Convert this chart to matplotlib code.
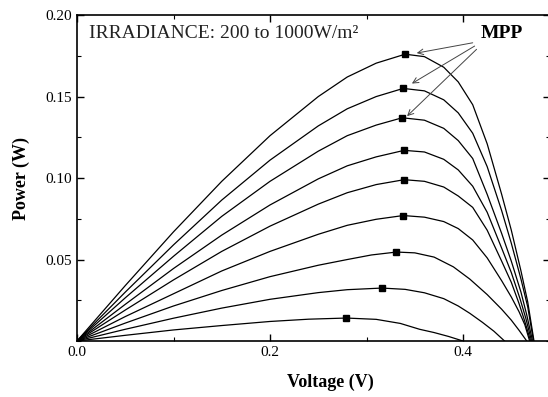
import numpy as np
import matplotlib.pyplot as plt
from matplotlib.ticker import MultipleLocator, FixedLocator

plt.rcParams['font.family'] = ['Liberation Serif', 'DejaVu Serif']

# P-V curves, highest irradiance first (V in volts, P in watts)
v1 = [0, 0.05, 0.10, 0.15, 0.20, 0.25, 0.28, 0.31, 0.34, 0.36, 0.38, 0.395, 0.41, 0.425, 0.44, 0.45, 0.46, 0.467, 0.4735]
p1 = [0, 0.034, 0.067, 0.098, 0.126, 0.150, 0.162, 0.1705, 0.176, 0.1745, 0.168, 0.159, 0.145, 0.121, 0.090, 0.068, 0.043, 0.024, 0]
v2 = [0, 0.05, 0.10, 0.15, 0.20, 0.25, 0.28, 0.31, 0.338, 0.36, 0.38, 0.395, 0.41, 0.425, 0.44, 0.45, 0.46, 0.467, 0.473]
p2 = [0, 0.030, 0.059, 0.0865, 0.111, 0.132, 0.1425, 0.150, 0.155, 0.1535, 0.148, 0.140, 0.1275, 0.107, 0.080, 0.060, 0.038, 0.021, 0]
v3 = [0, 0.05, 0.10, 0.15, 0.20, 0.25, 0.28, 0.31, 0.337, 0.36, 0.38, 0.395, 0.41, 0.425, 0.44, 0.45, 0.46, 0.466, 0.472]
p3 = [0, 0.0265, 0.052, 0.0765, 0.098, 0.1165, 0.126, 0.1325, 0.137, 0.1355, 0.1305, 0.123, 0.112, 0.090, 0.066, 0.049, 0.030, 0.016, 0]
v4 = [0, 0.05, 0.10, 0.15, 0.20, 0.25, 0.28, 0.31, 0.339, 0.36, 0.38, 0.395, 0.41, 0.425, 0.44, 0.45, 0.459, 0.465, 0.471]
p4 = [0, 0.0225, 0.0445, 0.065, 0.0835, 0.0995, 0.1075, 0.113, 0.117, 0.116, 0.1115, 0.105, 0.095, 0.079, 0.057, 0.042, 0.026, 0.014, 0]
v5 = [0, 0.05, 0.10, 0.15, 0.20, 0.25, 0.28, 0.31, 0.339, 0.36, 0.38, 0.395, 0.41, 0.425, 0.44, 0.45, 0.458, 0.464, 0.470]
p5 = [0, 0.019, 0.0375, 0.055, 0.0705, 0.084, 0.091, 0.096, 0.099, 0.098, 0.0945, 0.089, 0.082, 0.068, 0.049, 0.036, 0.023, 0.012, 0]
v6 = [0, 0.05, 0.10, 0.15, 0.20, 0.25, 0.28, 0.31, 0.338, 0.36, 0.38, 0.395, 0.41, 0.425, 0.44, 0.45, 0.458, 0.464, 0.469]
p6 = [0, 0.015, 0.029, 0.043, 0.055, 0.0655, 0.071, 0.0747, 0.077, 0.076, 0.0733, 0.069, 0.062, 0.051, 0.037, 0.027, 0.018, 0.010, 0]
v7 = [0, 0.05, 0.10, 0.15, 0.20, 0.25, 0.28, 0.305, 0.331, 0.35, 0.37, 0.39, 0.407, 0.425, 0.44, 0.45, 0.458, 0.466]
p7 = [0, 0.011, 0.0215, 0.031, 0.0395, 0.0465, 0.050, 0.0528, 0.0546, 0.0541, 0.0515, 0.0455, 0.038, 0.0285, 0.0195, 0.0128, 0.0066, 0]
v8 = [0, 0.05, 0.10, 0.15, 0.20, 0.25, 0.28, 0.316, 0.34, 0.36, 0.38, 0.395, 0.407, 0.42, 0.432, 0.443]
p8 = [0, 0.0072, 0.014, 0.0202, 0.0256, 0.0297, 0.0315, 0.0325, 0.0317, 0.0296, 0.026, 0.0215, 0.017, 0.0115, 0.006, 0]
v9 = [0, 0.05, 0.10, 0.15, 0.20, 0.24, 0.279, 0.31, 0.335, 0.355, 0.37, 0.385, 0.40]
p9 = [0, 0.0035, 0.0068, 0.0095, 0.0120, 0.0134, 0.0141, 0.0133, 0.0108, 0.0072, 0.0052, 0.0028, 0]

curves = [(v1, p1), (v2, p2), (v3, p3), (v4, p4), (v5, p5),
          (v6, p6), (v7, p7), (v8, p8), (v9, p9)]

# maximum power points
mpp_v = [0.340, 0.338, 0.337, 0.339, 0.339, 0.338, 0.331, 0.316, 0.279]
mpp_p = [0.176, 0.155, 0.137, 0.117, 0.099, 0.077, 0.0546, 0.0325, 0.0141]

fig = plt.figure(figsize=(5.48, 3.97), dpi=100)
ax = fig.add_axes([0.1405, 0.141, 0.863, 0.821])

for v, p in curves:
    ax.plot(v, p, color='black', lw=0.9, solid_joinstyle='round')
ax.plot(mpp_v, mpp_p, 's', color='black', ms=4.5)

# arrows from the MPP label to the top three points
heads = [(0.352, 0.1767), (0.347, 0.158), (0.342, 0.138)]
tails = [(0.410, 0.183), (0.412, 0.181), (0.414, 0.179)]
for h, t in zip(heads, tails):
    ax.annotate('', xy=h, xytext=t,
                arrowprops=dict(arrowstyle='->', color='#444444', lw=0.7,
                                shrinkA=0, shrinkB=0))
ax.text(0.418, 0.189, 'MPP', fontsize=14, fontweight='bold', va='center')
ax.text(0.012, 0.189, 'IRRADIANCE: 200 to 1000W/m²', fontsize=14,
        va='center', color='#222222')

ax.set_xlim(0, 0.49)
ax.set_ylim(0, 0.20)
ax.xaxis.set_major_locator(FixedLocator([0.0, 0.2, 0.4]))
ax.xaxis.set_minor_locator(MultipleLocator(0.1))
ax.yaxis.set_major_locator(FixedLocator([0.05, 0.10, 0.15, 0.20]))
ax.yaxis.set_minor_locator(MultipleLocator(0.025))
ax.set_xticklabels(['0.0', '0.2', '0.4'])
ax.set_yticklabels(['0.05', '0.10', '0.15', '0.20'])
ax.tick_params(which='both', direction='in', top=True, right=True, labelsize=11)
ax.tick_params(which='major', length=5, width=1)
ax.tick_params(which='minor', length=3, width=0.8)
for s in ax.spines.values():
    s.set_linewidth(1.2)

ax.set_xlabel('Voltage (V)', fontsize=13, fontweight='bold')
ax.set_ylabel('Power (W)', fontsize=13, fontweight='bold')
ax.xaxis.set_label_coords(0.535, -0.1)
ax.yaxis.set_label_coords(-0.10, 0.5)

fig.savefig('out.png', dpi=100)
